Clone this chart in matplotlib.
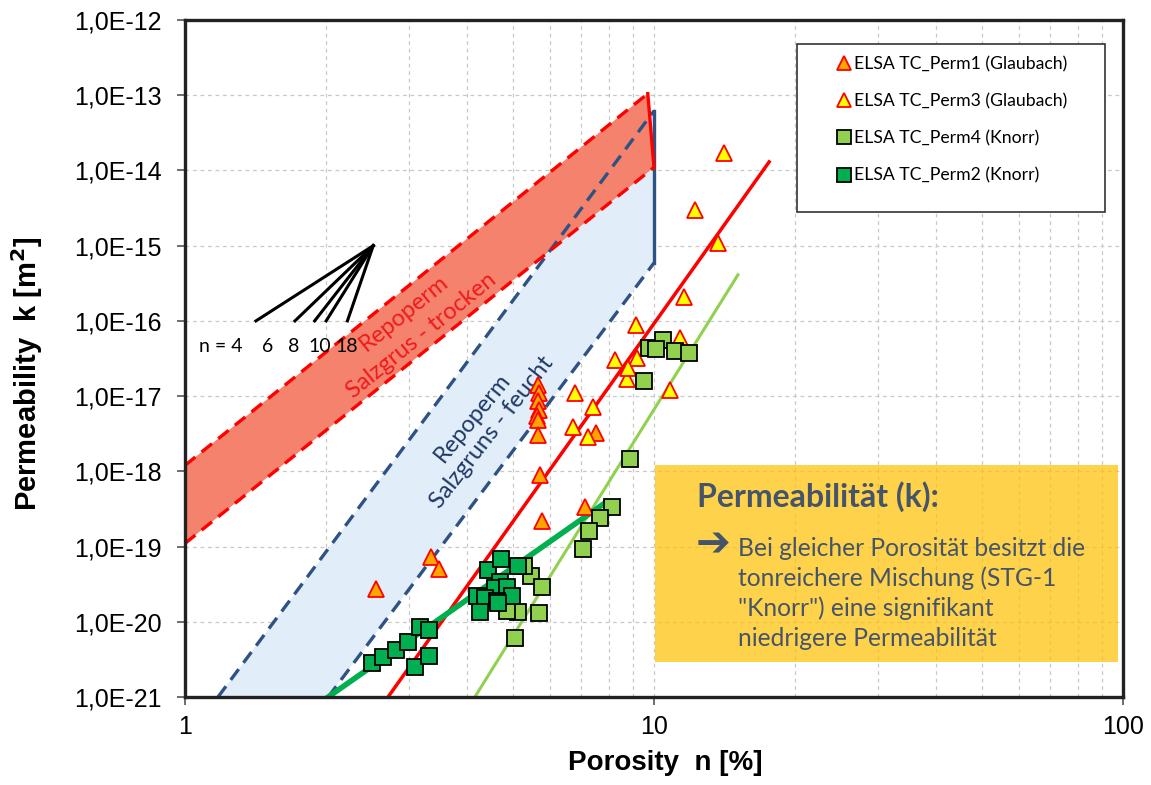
import numpy as np
import matplotlib
matplotlib.use('Agg')
import matplotlib.pyplot as plt
from matplotlib.patches import Rectangle
from matplotlib.ticker import FuncFormatter, NullLocator, LogLocator

plt.rcParams['font.family'] = ['Liberation Sans', 'DejaVu Sans']

perm1_n = [2.55, 3.34, 3.48, 5.66, 5.68, 5.65, 5.70, 5.64, 5.67, 5.65, 5.72, 5.77, 7.51, 7.14]
perm1_k = [2.7e-20, 7.2e-20, 5.0e-20, 1.4e-17, 1.1e-17, 8.5e-18, 6.5e-18, 5.5e-18, 4.8e-18,
           3.0e-18, 8.9e-19, 2.2e-19, 3.2e-18, 3.4e-19]

perm3_n = [6.78, 7.40, 6.73, 7.24, 8.75, 8.26, 9.18, 8.80, 9.14, 11.36, 10.8, 11.6, 13.7, 12.2, 14.1]
perm3_k = [1.1e-17, 7.1e-18, 3.9e-18, 2.9e-18, 1.7e-17, 3.0e-17, 3.2e-17, 2.4e-17, 8.7e-17,
           5.9e-17, 1.2e-17, 2.1e-16, 1.07e-15, 3.0e-15, 1.7e-14]

perm4_n = [9.78, 10.47, 10.1, 11.1, 11.85, 9.5, 8.89, 8.12, 7.69, 7.28, 7.07,
           5.46, 5.77, 5.27, 5.68, 5.05, 5.13, 4.87]
perm4_k = [4.4e-17, 5.6e-17, 4.2e-17, 4.0e-17, 3.8e-17, 1.6e-17, 1.45e-18, 3.4e-19, 2.4e-19,
           1.6e-19, 9.2e-20, 4.0e-20, 2.9e-20, 5.6e-20, 1.3e-20, 6.0e-21, 1.35e-20, 1.4e-20]

perm2_n = [2.50, 2.65, 2.82, 2.99, 3.17, 3.32, 3.09, 3.31, 4.43, 4.73, 5.13, 4.69, 4.58,
           4.85, 4.97, 4.20, 4.36, 4.25, 4.62, 4.65]
perm2_k = [2.8e-21, 3.4e-21, 4.2e-21, 5.4e-21, 8.5e-21, 7.7e-21, 2.5e-21, 3.5e-21, 4.9e-20,
           6.8e-20, 5.5e-20, 3.4e-20, 2.8e-20, 2.9e-20, 2.2e-20, 2.2e-20, 2.1e-20, 1.35e-20,
           1.9e-20, 1.75e-20]

# Ausgleichsgeraden
fit_glaubach_n = [2.71, 17.6]
fit_glaubach_k = [1e-21, 1.3e-14]
fit_perm4_n = [4.15, 15.1]
fit_perm4_k = [1e-21, 4.1e-16]
fit_perm2_n = [2.02, 7.86]
fit_perm2_k = [1e-21, 3.8e-19]

# Repoperm Baender
dry_upper_n = [1.0, 9.7]
dry_upper_k = [1.2e-18, 1.05e-13]
dry_lower_n = [1.0, 10.0]
dry_lower_k = [1.1e-19, 1.1e-14]
wet_upper_n = [1.176, 10.0]
wet_upper_k = [1e-21, 6.2e-14]
wet_lower_n = [2.02, 10.0]
wet_lower_k = [1e-21, 5.9e-16]

# Steigungsdreieck n = 4 ... 18
fan_apex_n = 2.52
fan_apex_k = 1e-15
fan_base_n = [1.417, 1.716, 1.89, 2.0, 2.22]
fan_base_k = 1e-16
fan_labels = ['n = 4', '6', '8', '10', '18']

y_ticks = [1e-21, 1e-20, 1e-19, 1e-18, 1e-17, 1e-16, 1e-15, 1e-14, 1e-13, 1e-12]
x_ticks = [1, 10, 100]

body_lines = ['Bei gleicher Porosität besitzt die',
              'tonreichere Mischung (STG-1',
              '"Knorr") eine signifikant',
              'niedrigere Permeabilität']

RED = '#FF0000'
BLUE = '#2E5283'
TXT = '#44546A'
CAL = ['Lato', 'DejaVu Sans']

fig = plt.figure(figsize=(11.51, 7.85), dpi=100)
ax = fig.add_axes([0.1607, 0.1121, 0.8150, 0.8624])
ax.set_xscale('log')
ax.set_yscale('log')
ax.set_xlim(1, 100)
ax.set_ylim(1e-21, 1e-12)

dash = (0, (4.0, 2.4))

# Baender
ax.fill(wet_upper_n + wet_lower_n[::-1], wet_upper_k + wet_lower_k[::-1],
        color='#E1EEFA', lw=0, zorder=1.5)
ax.fill(dry_upper_n + dry_lower_n[::-1], dry_upper_k + dry_lower_k[::-1],
        color='#F4826C', lw=0, zorder=1.6)

ax.plot(wet_upper_n, wet_upper_k, color=BLUE, lw=2.4, ls=dash, zorder=3)
ax.plot(wet_lower_n, wet_lower_k, color=BLUE, lw=2.4, ls=dash, zorder=3)
ax.plot([wet_upper_n[-1], wet_lower_n[-1]], [wet_upper_k[-1], wet_lower_k[-1]],
        color=BLUE, lw=2.4, zorder=3)
ax.plot(dry_upper_n, dry_upper_k, color=RED, lw=2.4, ls=dash, zorder=3)
ax.plot(dry_lower_n, dry_lower_k, color=RED, lw=2.4, ls=dash, zorder=3)
ax.plot([dry_upper_n[-1], dry_lower_n[-1]], [dry_upper_k[-1], dry_lower_k[-1]],
        color=RED, lw=2.4, zorder=3)

# Steigungen
for nb in fan_base_n:
    ax.plot([nb, fan_apex_n], [fan_base_k, fan_apex_k], color='black', lw=2.2, zorder=3)
fan_label_x = [1.19, 1.503, 1.708, 1.94, 2.21]
for lx, lab in zip(fan_label_x, fan_labels):
    ax.text(lx, 4.5e-17, lab, ha='center', va='center', fontsize=14, family=CAL, zorder=4)

# Fits
ax.plot(fit_glaubach_n, fit_glaubach_k, color=RED, lw=2.5, zorder=3)
ax.plot(fit_perm4_n, fit_perm4_k, color='#92D050', lw=2.2, zorder=3)
ax.plot(fit_perm2_n, fit_perm2_k, color='#00B050', lw=4, zorder=3)

# Messpunkte
ax.plot(perm1_n, perm1_k, ls='none', marker='^', ms=11.5, mfc='#FFA500', mec=RED, mew=1.3,
        label='ELSA TC_Perm1 (Glaubach)', zorder=5)
ax.plot(perm3_n, perm3_k, ls='none', marker='^', ms=11.5, mfc='#FFFF00', mec=RED, mew=1.3,
        label='ELSA TC_Perm3 (Glaubach)', zorder=5)
ax.plot(perm4_n, perm4_k, ls='none', marker='s', ms=11, mfc='#92D050', mec='black', mew=1.3,
        label='ELSA TC_Perm4 (Knorr)', zorder=5)
ax.plot(perm2_n, perm2_k, ls='none', marker='s', ms=11, mfc='#00B050', mec='black', mew=1.3,
        label='ELSA TC_Perm2 (Knorr)', zorder=5)

# Beschriftung der Baender
ax.text(2.93, 1.27e-16, 'Repoperm', color='#EE1C1C', rotation=39, ha='center', va='center',
        fontsize=17, family=CAL, zorder=4)
ax.text(3.20, 6.3e-17, 'Salzgrus - trocken', color='#EE1C1C', rotation=39, ha='center',
        va='center', fontsize=17, family=CAL, zorder=4)
ax.text(4.11, 5.2e-18, 'Repoperm', color='#1F3864', rotation=51, ha='center', va='center',
        fontsize=17, family=CAL, zorder=4)
ax.text(4.52, 3.3e-18, 'Salzgruns - feucht', color='#1F3864', rotation=52, ha='center',
        va='center', fontsize=17, family=CAL, zorder=4)

# Textbox
ax.add_patch(Rectangle((0.501, 0.0517), 0.4937, 0.291, transform=ax.transAxes,
                       facecolor='#FFC000', alpha=0.7, lw=0, zorder=2))
ax.text(0.5458, 0.2954, 'Permeabilität (k):', transform=ax.transAxes, fontsize=23,
        fontweight='bold', color=TXT, family=CAL, va='center', ha='left', zorder=4)
ax.text(0.5445, 0.2250, '➔', transform=ax.transAxes, fontsize=30, color=TXT,
        family=['DejaVu Sans'], fontweight='bold', va='center', ha='left', zorder=4)
for i, line in enumerate(body_lines):
    ax.text(0.5896, 0.2200 - i * 0.0443, line, transform=ax.transAxes, fontsize=17.7,
            color=TXT, family=CAL, va='center', ha='left', zorder=4)

# Legende mit eigenem Rahmen
ax.add_patch(Rectangle((0.6525, 0.7164), 0.3283, 0.2481, transform=ax.transAxes,
                       facecolor='white', edgecolor='#333333', lw=1.2, zorder=6))
leg = ax.legend(loc='upper left', bbox_to_anchor=(0.6968, 0.947), frameon=False,
                borderpad=0, borderaxespad=0, handlelength=0.6, handletextpad=0.3,
                labelspacing=1.2, markerscale=0.9, prop={'family': CAL, 'size': 12.7})
leg.set_zorder(7)

# Achsen
ax.set_xticks(x_ticks)
ax.set_xticklabels(['1', '10', '100'])
ax.set_yticks(y_ticks)
ax.yaxis.set_major_formatter(FuncFormatter(lambda v, p: '1,0E%03d' % int(round(np.log10(v)))))
ax.yaxis.set_minor_locator(NullLocator())
ax.xaxis.set_minor_locator(LogLocator(base=10, subs=np.arange(2, 10)))
ax.tick_params(which='major', labelsize=18, length=6, width=1.2, direction='out', color='#555555')
ax.tick_params(axis='y', pad=11)
ax.tick_params(axis='x', pad=7)
ax.tick_params(which='minor', length=0)

ax.grid(which='major', ls=(0, (3, 3)), color='#C8C8C8', lw=0.9)
ax.grid(which='minor', axis='x', ls=(0, (3, 3)), color='#C8C8C8', lw=0.9)
ax.set_axisbelow(True)

for sp in ax.spines.values():
    sp.set_linewidth(2.4)
    sp.set_color('#222222')
    sp.set_zorder(8)

ax.set_xlabel('Porosity  n [%]', fontsize=20, fontweight='bold')
ax.set_ylabel('Permeability  k [m$\\mathbf{^2}$]', fontsize=21, fontweight='bold')
ax.xaxis.set_label_coords(0.512, -0.078)
ax.yaxis.set_label_coords(-0.149, 0.477)

fig.savefig('out.png', dpi=100)
